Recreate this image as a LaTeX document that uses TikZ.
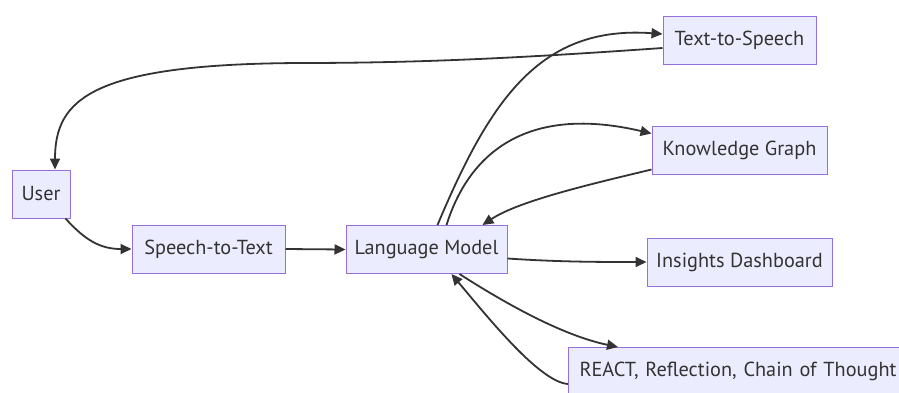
\documentclass[tikz,border=0pt]{standalone}
\usepackage{fontspec}
\setmainfont{PT Sans}
\usetikzlibrary{arrows.meta}
\definecolor{nodefill}{HTML}{ECECFF}
\definecolor{nodeline}{HTML}{9370DB}
\definecolor{edge}{HTML}{333333}
\begin{document}
\begin{tikzpicture}[x=1pt,y=-1pt,
  box/.style={draw=nodeline, fill=nodefill, line width=1pt, minimum height=48pt,
    inner sep=0pt, text=edge, font=\fontsize{20.3}{23}\selectfont},
  conn/.style={draw=edge, line width=1.8pt, -{Triangle[length=11pt,width=10pt]}}]
\useasboundingbox (0,0) rectangle (899,392);
\fill[white] (0,0) rectangle (899,392);
\node[box, minimum width=58pt] (user) at (41,194) {User};
\node[box, minimum width=153pt] (stt) at (208.5,249) {Speech-to-Text};
\node[box, minimum width=161pt] (lm) at (426.5,249.5) {Language Model};
\node[box, minimum width=153pt] (tts) at (739.5,40) {Text-to-Speech};
\node[box, minimum width=175pt] (kg) at (739.5,150.5) {Knowledge Graph};
\node[box, minimum width=185pt] (ins) at (739.5,262) {Insights Dashboard};
\begin{scope}
\clip (0,0) rectangle (899,392);
\node[box, minimum width=344pt, anchor=north west, text width=340pt, align=left] (react) at (568,347) {\hspace*{9pt}REACT, Reflection, Chain of Thought};
\end{scope}
% edges
\draw[conn] ([xshift=-5pt]user.south east) .. controls (85,240) and (100,249) .. (stt.west);
\draw[conn] (stt.east) -- (lm.west);
\draw[conn] ([xshift=11pt]lm.north) .. controls (490,100) and (540,25) .. ([yshift=6pt]tts.west);
\draw[conn] ([yshift=-8pt]tts.west) .. controls (520,58) and (420,63) .. (300,63) .. controls (90,64) and (55,100) .. ([xshift=14pt]user.north);
\draw[conn] ([xshift=20pt]lm.north) .. controls (470,150) and (530,105) .. ([yshift=17pt]kg.west);
\draw[conn] ([yshift=-19pt]kg.west) .. controls (600,182) and (520,200) .. ([xshift=56pt]lm.north);
\draw[conn] ([yshift=-9pt]lm.east) .. controls (560,262) and (600,262) .. (ins.west);
\draw[conn] ([xshift=33pt]lm.south) .. controls (500,300) and (560,335) .. ([xshift=50pt]react.north west);
\draw[conn] ([yshift=12pt]react.south west) .. controls (540,382) and (490,320) .. ([xshift=25pt]lm.south);
\end{tikzpicture}
\end{document}
